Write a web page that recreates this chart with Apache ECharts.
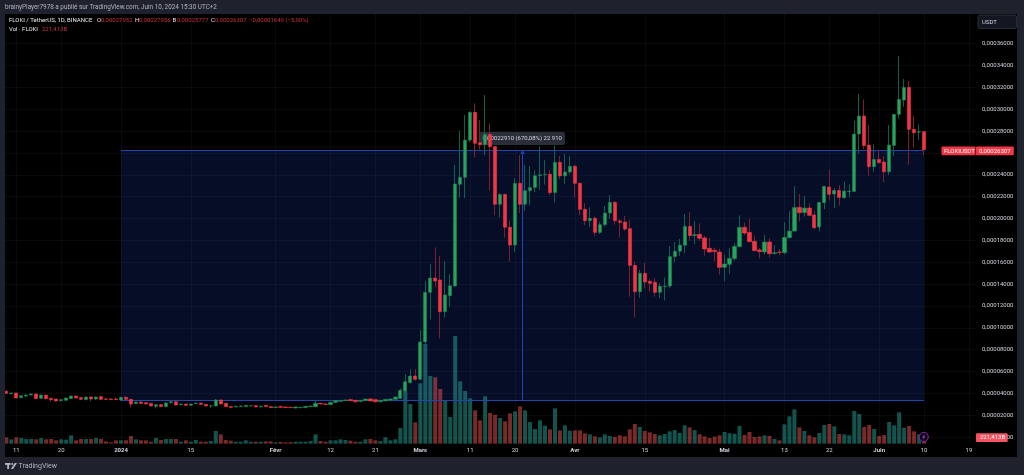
<!DOCTYPE html>
<html><head><meta charset="utf-8">
<style>html,body{margin:0;padding:0;background:#1e222d}#c{width:1024px;height:475px}</style>
<script src="https://cdn.jsdelivr.net/npm/echarts@6/dist/echarts.min.js"></script>
</head><body><div id="c"></div>
<script>
// Prices in units of 1e-5 USDT, rows are [open, high, low, close]
const ohlcDec = [[4.18,4.30,3.94,4.00],[3.97,4.06,3.90,4.03],[4.03,4.06,3.54,3.57],[3.60,3.81,3.57,3.78],[3.75,3.90,3.63,3.84],[3.84,3.97,3.81,3.94],[3.94,3.97,3.48,3.51],[3.54,3.87,3.51,3.84],[3.84,3.87,3.45,3.51],[3.54,3.57,3.23,3.42],[3.48,3.48,3.26,3.30],[3.33,3.45,3.23,3.42],[3.36,3.60,3.30,3.57],[3.51,3.78,3.48,3.75],[3.75,3.78,3.54,3.57],[3.60,3.63,3.42,3.45],[3.42,3.69,3.36,3.66],[3.66,3.69,3.26,3.48],[3.48,3.72,3.39,3.66],[3.69,3.78,3.39,3.45],[3.48,3.60,3.42,3.45],[3.48,3.54,3.39,3.42],[3.48,3.63,3.39,3.42]];
const ohlcJan = [[3.39,3.69,3.30,3.63],[3.63,3.72,3.42,3.45],[3.45,3.48,2.72,3.02],[3.05,3.23,3.02,3.20],[3.20,3.26,3.02,3.08],[3.14,3.20,2.99,3.02],[3.08,3.11,2.81,2.84],[2.81,3.00,2.62,2.96],[2.96,3.00,2.75,2.78],[2.78,3.20,2.72,3.11],[3.14,3.39,3.08,3.23],[3.23,3.30,2.90,2.93],[2.96,3.05,2.90,3.02],[3.02,3.05,2.87,2.90],[2.90,3.05,2.87,3.02],[3.05,3.14,3.02,3.11],[3.11,3.14,2.96,2.99],[2.99,3.02,2.81,2.84],[2.84,2.90,2.65,2.87],[2.84,3.48,2.81,3.39],[3.39,3.42,2.99,3.02],[3.08,3.11,2.75,2.78],[2.78,2.84,2.62,2.72],[2.75,2.84,2.72,2.81],[2.78,2.87,2.75,2.84],[2.78,2.93,2.75,2.90],[2.84,2.90,2.81,2.87],[2.87,2.90,2.72,2.75],[2.75,2.87,2.72,2.81],[2.90,2.93,2.75,2.78],[2.78,2.81,2.65,2.69]];
const ohlcFeb = [[2.69,2.78,2.65,2.75],[2.78,2.87,2.69,2.72],[2.75,2.78,2.65,2.69],[2.72,2.75,2.65,2.69],[2.65,2.78,2.62,2.75],[2.69,2.75,2.62,2.72],[2.69,2.84,2.65,2.81],[2.78,2.87,2.75,2.84],[2.78,3.33,2.72,3.08],[3.08,3.11,2.99,3.02],[3.02,3.08,2.93,2.99],[2.96,3.20,2.93,3.17],[3.17,3.36,3.14,3.33],[3.26,3.39,3.23,3.33],[3.33,3.42,3.30,3.39],[3.42,3.48,3.30,3.33],[3.36,3.39,3.14,3.23],[3.26,3.39,3.23,3.36],[3.33,3.51,3.30,3.48],[3.48,3.57,3.26,3.30],[3.42,3.45,3.17,3.23],[3.23,3.39,3.17,3.36],[3.30,3.48,3.26,3.45],[3.36,3.51,3.33,3.48],[3.45,3.69,3.42,3.66],[3.54,4.46,3.50,4.27],[4.21,5.74,4.15,5.06],[4.97,6.19,4.91,5.58],[5.58,6.22,5.16,5.28]];
const ohlcMar = [[5.28,9.79,5.22,8.70],[8.70,14.28,8.50,13.24],[13.24,15.83,10.77,14.55],[14.55,17.36,13.70,14.28],[14.37,16.56,9.03,11.47],[11.47,16.10,10.95,13.00],[12.93,14.90,11.93,13.84],[13.82,24.90,13.76,23.16],[23.13,28.04,21.90,23.77],[23.77,29.47,21.87,27.18],[27.18,29.80,27.00,29.72],[29.72,30.54,25.60,26.88],[26.94,29.00,26.30,26.76],[26.76,31.30,25.80,27.70],[27.70,28.70,22.55,26.58],[26.58,26.60,20.30,21.30],[21.30,22.30,20.10,22.20],[22.20,22.30,18.24,19.20],[19.20,19.80,16.05,17.57],[17.57,23.68,16.96,23.22],[23.22,25.80,20.50,21.30],[21.30,24.90,20.70,22.55],[22.55,24.80,21.20,22.83],[22.83,24.40,22.40,23.92],[23.92,26.60,22.60,24.00],[24.00,25.35,23.10,24.05],[24.05,24.44,22.15,22.37],[22.37,26.67,21.45,25.14],[25.14,25.72,23.59,23.90],[23.90,25.90,23.16,24.26],[24.26,25.75,24.05,24.78]];
const ohlcApr = [[24.78,24.90,21.94,23.22],[23.22,23.30,20.30,20.84],[20.84,21.40,19.38,19.80],[19.80,21.02,19.25,20.02],[20.02,20.17,18.43,18.73],[18.73,19.71,18.58,19.44],[19.44,21.15,19.25,20.50],[20.50,22.15,19.95,21.48],[21.48,21.60,19.44,19.80],[19.77,19.95,18.25,19.65],[19.68,20.23,18.86,19.04],[19.07,19.86,12.85,15.71],[15.71,16.05,10.92,13.30],[13.30,15.30,12.75,14.98],[14.98,15.93,13.60,14.19],[14.25,14.43,13.30,14.07],[14.16,14.55,12.85,13.24],[13.24,14.07,12.72,13.79],[13.76,14.58,12.48,13.82],[13.82,17.45,13.60,16.51],[16.51,17.85,15.99,17.00],[17.00,18.12,16.57,17.57],[17.55,20.41,16.81,19.28],[19.28,20.57,17.94,18.43],[18.43,19.77,17.64,18.52],[18.55,19.56,17.94,18.19],[18.22,18.40,16.60,17.21],[17.27,18.22,16.87,16.93],[17.09,17.33,16.05,16.97],[16.93,17.24,14.86,15.53]];
const ohlcMay = [[15.53,16.69,14.25,15.84],[15.80,17.27,14.95,16.35],[16.32,17.73,16.14,17.45],[17.42,20.29,17.36,19.19],[19.19,19.62,18.49,18.67],[18.73,20.00,17.85,17.88],[17.91,18.43,17.00,17.06],[17.12,17.30,16.35,16.97],[16.93,18.49,16.69,17.85],[17.85,18.19,16.42,16.78],[16.78,17.55,16.72,16.87],[16.93,17.20,16.63,16.90],[16.87,19.68,16.70,18.27],[18.24,20.65,18.18,18.85],[18.85,22.97,18.80,21.00],[21.02,22.24,19.71,20.53],[20.53,22.06,20.17,20.96],[20.96,21.38,20.17,20.29],[20.32,20.71,19.00,19.16],[19.22,21.50,18.82,21.48],[21.45,22.97,20.84,22.94],[22.88,24.50,21.63,22.21],[22.24,22.80,20.93,22.57],[22.57,23.06,21.17,21.93],[21.90,23.37,21.84,22.51],[22.45,23.15,21.93,22.51],[22.48,28.95,22.42,27.73],[27.73,31.39,25.93,29.38],[29.38,30.90,26.36,26.69],[26.72,28.55,23.92,24.74],[24.74,26.79,24.28,25.41]];
const ohlcJun = [[25.41,26.27,25.05,25.11],[25.17,25.72,23.34,24.28],[24.28,28.55,23.98,26.72],[26.69,29.56,25.72,29.53],[29.53,34.87,29.17,30.90],[30.84,32.77,30.23,32.00],[32.00,32.58,24.92,28.16],[28.16,29.38,26.51,27.85],[27.90,28.62,27.18,27.95],[27.952,27.956,25.777,26.307]];

// Volume in billions of FLOKI, one value per candle
const volDec = [226,155,226,202,167,167,155,202,155,167,119,155,143,298,119,167,167,167,202,167,83,48,119];
const volJan = [119,119,274,155,119,119,71,202,131,167,167,167,71,119,71,131,71,71,95,452,333,131,107,71,71,119,71,71,71,83,83];
const volFeb = [48,60,48,60,71,71,71,95,333,95,71,119,119,155,131,107,71,71,155,167,119,95,226,119,155,559,1880,1416,762];
const volMar = [2154,3558,2416,2368,1952,1535,952,3844,2225,1880,1618,1190,833,1690,1095,1035,916,797,1083,1154,1333,1190,773,524,833,643,512,1261,476,655,464];
const volApr = [476,476,369,333,262,226,333,274,238,298,262,512,702,595,452,405,345,298,345,440,488,381,655,583,488,333,262,202,250,298];
const volMay = [417,369,357,631,309,417,238,262,298,274,167,119,690,976,1226,583,452,298,226,381,666,702,619,345,333,298,1166,1059,595,666,524];
const volJun = [274,309,773,655,1119,571,631,440,333,221.4];

const ohlc = [...ohlcDec, ...ohlcJan, ...ohlcFeb, ...ohlcMar, ...ohlcApr, ...ohlcMay, ...ohlcJun];
const volumes = [...volDec, ...volJan, ...volFeb, ...volMar, ...volApr, ...volMay, ...volJun];

// One category per day, from 9 Dec 2023 to 20 Jun 2024
const firstDayUtc = Date.UTC(2023, 11, 9);
const dayCount = 195;
const days = [];
for (let i = 0; i < dayCount; i++) days.push(new Date(firstDayUtc + i * 864e5).toISOString().slice(0, 10));

const timeTicks = {'2023-12-11':'11','2023-12-20':'20','2024-01-01':'2024','2024-01-15':'15','2024-02-01':'Févr','2024-02-12':'12','2024-02-21':'21','2024-03-01':'Mars','2024-03-11':'11','2024-03-20':'20','2024-04-01':'Avr','2024-04-15':'15','2024-05-01':'Mai','2024-05-13':'13','2024-05-22':'22','2024-06-01':'Juin','2024-06-10':'10','2024-06-19':'19'};
const boldTicks = ['2024','Févr','Mars','Avr','Mai','Juin'];

// Price range tool (values)
const boxLow = 3.32, boxHigh = 26.24;
const boxStart = days.indexOf('2024-01-01'), boxEnd = days.indexOf('2024-06-10');
const boxMiddle = (boxStart + boxEnd) / 2;

const UP = '#26a65b', DOWN = '#f23645', UP_WICK = '#0f5f52', DOWN_WICK = '#7d1f2d';
const FRAME = '#1e222d', GRID = 'rgba(240,243,250,0.045)', FONT = 'Roboto, "Liberation Sans", sans-serif';

const wickData = ohlc.map(r => [r[0], r[3], r[2], r[1]]);
const bodyData = ohlc.map(r => [r[0], r[3], Math.min(r[0], r[3]), Math.max(r[0], r[3])]);
const volData = volumes.map((v, i) => ({
  value: v,
  itemStyle: {color: ohlc[i][3] >= ohlc[i][0] ? 'rgba(38,166,154,0.5)' : 'rgba(239,83,80,0.5)'}
}));

const isTick = (i, v) => timeTicks[v] !== undefined;
const txt = (x, y, text, fill, size, extra) => ({type:'text', z:101, x, y, silent:true,
  style:Object.assign({text, fill, font:(size||6)+'px '+FONT, textVerticalAlign:'middle'}, extra||{})});
const rect = (x, y, w, h, fill, z, r) => ({type:'rect', z:z||100, silent:true, shape:{x,y,width:w,height:h,r:r||0}, style:{fill}});

const chart = echarts.init(document.getElementById('c'), null, {width:1024, height:475});
chart.setOption({
  animation:false,
  backgroundColor:'#000000',
  grid:[
    {left:3.8, width:972.66, top:43.7, height:393.3},
    {left:3.8, width:972.66, top:14, height:429.67}
  ],
  xAxis:[
    {type:'category', gridIndex:0, data:days, show:false},
    {type:'category', gridIndex:1, data:days, axisLine:{show:false}, axisTick:{show:false},
      splitLine:{show:true, interval:isTick, alignWithLabel:true, lineStyle:{color:GRID, width:1}},
      axisLabel:{interval:isTick, margin:4, fontSize:6, fontFamily:FONT, color:'#d1d4dc',
        formatter:v => { const t = timeTicks[v]; return boldTicks.includes(t) ? '{b|'+t+'}' : t; },
        rich:{b:{fontSize:6, fontWeight:'bold', fontFamily:FONT, color:'#d1d4dc'}}}},
    {type:'value', gridIndex:0, min:-0.5, max:dayCount-0.5, show:false}
  ],
  yAxis:[
    {type:'value', gridIndex:0, position:'right', min:0, max:36, interval:2, axisLine:{show:false}, axisTick:{show:false},
      splitLine:{lineStyle:{color:GRID, width:1}},
      axisLabel:{margin:5.5, fontSize:6, fontFamily:FONT, color:'#d1d4dc', formatter:v => (v/1e5).toFixed(8).replace('.',',')}},
    {type:'value', gridIndex:1, position:'right', min:0, max:15340, show:false}
  ],
  series:[
    {name:'Range', type:'line', xAxisIndex:2, yAxisIndex:0, z:1, symbol:'none', silent:true, lineStyle:{opacity:0},
      data:[[boxMiddle, boxLow],[boxMiddle, boxHigh]],
      markArea:{silent:true, z:1, itemStyle:{color:'rgba(33,80,230,0.17)'},
        data:[[{coord:[boxStart, boxHigh]},{coord:[boxEnd, boxLow]}]]},
      markLine:{silent:true, z:4, animation:false, precision:4, symbol:['none','none'], label:{show:false},
        lineStyle:{color:'#2046b4', width:1, type:'solid'},
        data:[
          [{coord:[boxStart, boxHigh]},{coord:[boxEnd, boxHigh]}],
          [{coord:[boxStart, boxLow]},{coord:[boxEnd, boxLow]}],
          [{coord:[boxMiddle, boxLow], symbol:'none'},{coord:[boxMiddle, boxHigh], symbol:'arrow', symbolSize:4}]
        ]}},
    {name:'Volume', type:'bar', xAxisIndex:1, yAxisIndex:1, z:2, barWidth:4, data:volData, silent:true},
    {name:'Wicks', type:'candlestick', xAxisIndex:0, yAxisIndex:0, z:5, barWidth:1, silent:true, data:wickData,
      itemStyle:{color:UP_WICK, color0:DOWN_WICK, borderColor:UP_WICK, borderColor0:DOWN_WICK, borderWidth:1}},
    {name:'Bodies', type:'candlestick', xAxisIndex:0, yAxisIndex:0, z:6, barWidth:3.8, silent:true, data:bodyData,
      itemStyle:{color:UP, color0:DOWN, borderColor:'#1f7d55', borderColor0:DOWN, borderWidth:0.6}}
  ],
  graphic:{elements:[
    // Measure tag, under the candles
    rect(479, 132, 86, 13, '#2a2e39', 3, 2),
    {type:'text', z:3, x:482.5, y:138.8, silent:true, style:{text:'0,00022910 (670,08%) 22 910', fill:'#d1d4dc', font:'6px '+FONT, textVerticalAlign:'middle'}},
    // Frame around the chart panel
    rect(0, 0, 1024, 14, FRAME),
    rect(0, 457, 1024, 18, FRAME),
    rect(0, 0, 5, 475, FRAME),
    rect(1017, 0, 7, 475, FRAME),
    // Header
    txt(5, 7.5, 'brainyPlayer7978 a publié sur TradingView.com, Juin 10, 2024 15:30 UTC+2', '#b2b5be', 6.35),
    txt(9, 20.7, 'FLOKI / TetherUS, 1D, BINANCE', '#e6e8ee', 6),
    txt(97, 20.7, 'O', '#e6e8ee'), txt(101, 20.7, '0,00027952', '#c9303e'),
    txt(135, 20.7, 'H', '#e6e8ee'), txt(139, 20.7, '0,00027956', '#c9303e'),
    txt(172.5, 20.7, 'B', '#e6e8ee'), txt(177, 20.7, '0,00025777', '#c9303e'),
    txt(211, 20.7, 'C', '#e6e8ee'), txt(215, 20.7, '0,00026307', '#c9303e'),
    txt(249, 20.7, '−0,00001649 (−5,90%)', '#c9303e', 6),
    txt(9, 29.3, 'Vol · FLOKI', '#e6e8ee'), txt(42, 29.3, '221,413B', '#c9303e'),
    // Currency button
    {type:'rect', z:101, silent:true, shape:{x:978, y:15, width:38.5, height:13.5, r:2}, style:{fill:'#131722', stroke:'#363a45', lineWidth:0.7}},
    txt(982, 22, 'USDT', '#d1d4dc'),
    // Last price tags
    rect(941.5, 146.5, 34, 8.8, '#f23645', 102, 1),
    rect(976, 146.5, 37.8, 8.8, '#f23645', 102, 1),
    {type:'text', z:103, x:944, y:151, silent:true, style:{text:'FLOKIUSDT', fill:'#ffffff', font:'6px '+FONT, textVerticalAlign:'middle'}},
    {type:'text', z:103, x:979, y:151, silent:true, style:{text:'0,00026307', fill:'#ffffff', font:'6px '+FONT, textVerticalAlign:'middle'}},
    rect(976, 433.3, 31.7, 8.6, '#f7525f', 102, 1),
    {type:'text', z:103, x:980, y:437.7, silent:true, style:{text:'221,413B', fill:'#ffffff', font:'6px '+FONT, textVerticalAlign:'middle'}},
    // Lightning badge
    {type:'circle', z:101, silent:true, shape:{cx:923.7, cy:437, r:4.6}, style:{fill:'#12061a', stroke:'#8c2bb0', lineWidth:0.9}},
    {type:'polygon', z:102, silent:true, shape:{points:[[924.6,434],[922.2,437.4],[923.6,437.4],[922.9,440],[925.3,436.5],[923.9,436.5]]}, style:{fill:'#a64bc8'}},
    // Footer logo
    rect(5, 463, 5.6, 1.9, '#b2b5be', 101),
    rect(7.2, 463, 1.9, 6, '#b2b5be', 101),
    {type:'circle', z:101, silent:true, shape:{cx:12.2, cy:464, r:1}, style:{fill:'#b2b5be'}},
    {type:'polygon', z:101, silent:true, shape:{points:[[10.8,469],[13,469],[17,463],[14.7,463]]}, style:{fill:'#b2b5be'}},
    txt(18.5, 466.3, 'TradingView', '#b2b5be', 7)
  ]}
});
</script></body></html>
